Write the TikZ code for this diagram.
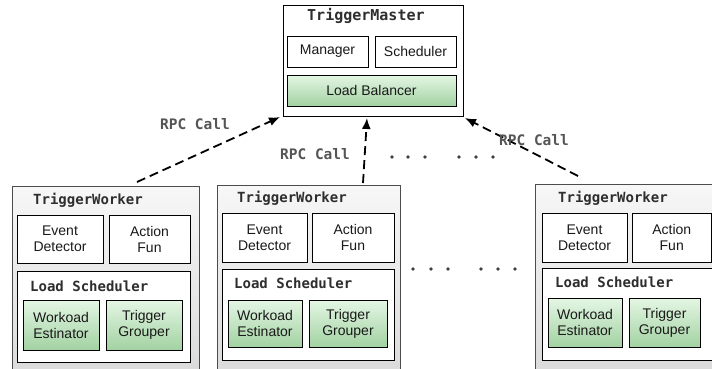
\documentclass[tikz,border=0pt]{standalone}
\usepackage{fontspec}
\setmainfont{Liberation Sans}
\newfontfamily\monofam{DejaVu Sans Mono}
\usetikzlibrary{arrows.meta,calc}
\definecolor{gtop}{HTML}{E4F6E4}
\definecolor{gbot}{HTML}{A2D2A2}
\definecolor{wtop}{HTML}{F7F7F7}
\definecolor{wbot}{HTML}{D9D9D9}
\definecolor{ttl}{HTML}{2E2E2E}
\definecolor{rpc}{HTML}{555555}
\tikzset{
  box/.style={draw=black, line width=0.8pt, fill=white, anchor=north west,
    inner sep=0pt, outer sep=0pt, align=center,
    font=\fontsize{14}{16}\selectfont, text=black!90},
  gbox/.style={box, top color=gtop, bottom color=gbot},
  wbox/.style={draw=black!70, line width=0.8pt, top color=wtop, bottom color=wbot,
    anchor=north west, inner sep=0pt, outer sep=0pt},
  mbox/.style={draw=black, line width=0.8pt, fill=white, anchor=north west,
    inner sep=0pt, outer sep=0pt},
  ttlfont/.style={anchor=base west, inner sep=0pt, text=ttl,
    font=\monofam\bfseries\fontsize{14}{16}\selectfont},
  rpclabel/.style={inner sep=0pt, text=rpc,
    font=\monofam\bfseries\fontsize{14.5}{16}\selectfont},
  rpcarrow/.style={line width=1.8pt, dash pattern=on 9pt off 5pt,
    -{Latex[length=11pt,width=9pt]}},
  dotc/.style={fill=black!75}
}
\begin{document}
\begin{tikzpicture}[x=1pt,y=-1pt]
\clip (0,0) rectangle (712,368);
\fill[white] (0,0) rectangle (712,368);

% ---- TriggerMaster
\node[mbox, minimum width=180pt, minimum height=111pt] (M) at (283,5) {};
\node[ttlfont, font=\monofam\bfseries\fontsize{15}{17}\selectfont] (Mt) at (307,20) {TriggerMaster};
\node[box, minimum width=81pt, minimum height=31pt] (Mgr) at (287,36) {Manager};
\node[box, minimum width=81pt, minimum height=31pt] (Sch) at (375,36) {Scheduler};
\node[gbox, minimum width=169pt, minimum height=31pt] (LB) at (287,75) {Load Balancer};

% ---- Worker 1
\node[wbox, minimum width=187pt, minimum height=200pt] (W1) at (12,186) {};
\node[ttlfont] (W1t) at (33,204) {TriggerWorker};
\node[box, minimum width=86pt, minimum height=48pt] (ED1) at (17,215) {Event\\Detector};
\node[box, minimum width=81pt, minimum height=48pt] (AF1) at (109,215) {Action\\Fun};
\node[box, minimum width=173pt, minimum height=91pt] (LS1) at (17,271) {};
\node[ttlfont] (LS1t) at (30,291) {Load Scheduler};
\node[gbox, minimum width=76pt, minimum height=50pt] (WE1) at (23,300) {Workoad\\Estinator};
\node[gbox, minimum width=76pt, minimum height=50pt] (TG1) at (106,300) {Trigger\\Grouper};

% ---- Worker 2
\node[wbox, minimum width=183pt, minimum height=200pt] (W2) at (217,185) {};
\node[ttlfont] (W2t) at (237,202) {TriggerWorker};
\node[box, minimum width=85pt, minimum height=49pt] (ED2) at (222,213) {Event\\Detector};
\node[box, minimum width=82pt, minimum height=49pt] (AF2) at (312,213) {Action\\Fun};
\node[box, minimum width=172pt, minimum height=91pt] (LS2) at (222,269) {};
\node[ttlfont] (LS2t) at (234,288) {Load Scheduler};
\node[gbox, minimum width=74pt, minimum height=47pt] (WE2) at (228,300) {Workoad\\Estinator};
\node[gbox, minimum width=78pt, minimum height=47pt] (TG2) at (309,300) {Trigger\\Grouper};

% ---- Worker 3
\node[wbox, minimum width=190pt, minimum height=200pt] (W3) at (535,184) {};
\node[ttlfont] (W3t) at (558,202) {TriggerWorker};
\node[box, minimum width=85pt, minimum height=49pt] (ED3) at (542,213) {Event\\Detector};
\node[box, minimum width=79.5pt, minimum height=49pt] (AF3) at (632,213) {Action\\Fun};
\node[box, minimum width=180pt, minimum height=92pt] (LS3) at (542,268) {};
\node[ttlfont] (LS3t) at (555,287) {Load Scheduler};
\node[gbox, minimum width=74pt, minimum height=49pt] (WE3) at (548,298) {Workoad\\Estinator};
\node[gbox, minimum width=71pt, minimum height=49pt] (TG3) at (629,298) {Trigger\\Grouper};

% ---- RPC arrows
\draw[rpcarrow] ($(W1.north)+(31.5,-4)$) -- ($(M.south west)+(-3,1)$);
\draw[rpcarrow] ($(W2.north)+(54.5,-2)$) -- ($(M.south)+(-6,2)$);
\draw[rpcarrow] ($(W3.north)+(-52,-8)$) -- ($(M.south east)+(2,2)$);

\node[rpclabel] (R1) at (195,124) {RPC Call};
\node[rpclabel] (R2) at (315,154) {RPC Call};
\node[rpclabel] (R3) at (534,140) {RPC Call};

% ---- ellipsis dots
\foreach \x in {392,408,425,459,476,493} \fill[dotc] (\x,157) circle (1.8pt);
\foreach \x in {413,431,448,481,498,515} \fill[dotc] (\x,269) circle (1.8pt);
\end{tikzpicture}
\end{document}
